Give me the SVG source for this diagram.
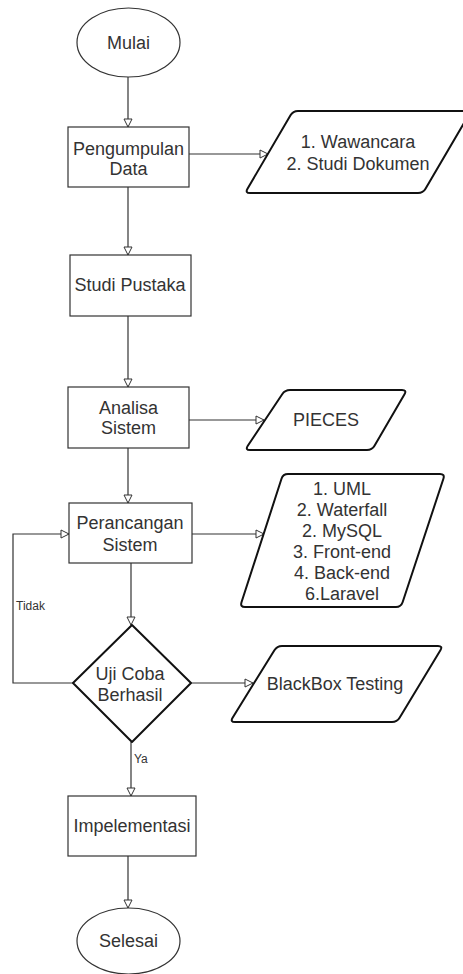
<svg xmlns="http://www.w3.org/2000/svg" width="463" height="974" viewBox="0 0 463 974">
<style>
.box{fill:#fff;stroke:#333;stroke-width:1.2}
.io{fill:#fff;stroke:#111;stroke-width:2;stroke-linejoin:round}
.t{font-family:"Liberation Sans",Arial,sans-serif;font-size:18px;fill:#333;text-anchor:middle}
.s{font-family:"Liberation Sans",Arial,sans-serif;font-size:12px;fill:#333}
.c{fill:none;stroke:#333;stroke-width:1.2;marker-end:url(#arr)}
</style>
<defs>
<marker id="arr" markerUnits="userSpaceOnUse" markerWidth="10" markerHeight="10" refX="8" refY="4" orient="auto" viewBox="-1 -1 10 10">
<path d="M0,0 L8,4 L0,8 Z" fill="#fff" stroke="#333" stroke-width="1"/>
</marker>
</defs>
<rect width="463" height="974" fill="#fff"/>
<g id="connectors">
<path class="c" d="M128,77 V127"/>
<path class="c" d="M189,154 H268"/>
<path class="c" d="M128,187 V255"/>
<path class="c" d="M128,316 V387"/>
<path class="c" d="M189,420 H264"/>
<path class="c" d="M128,448 V503"/>
<path class="c" d="M192,534 H264"/>
<path class="c" d="M131,563 V625"/>
<path class="c" d="M191,683 H253"/>
<path class="c" d="M73,683 H13 V534 H69"/>
<path class="c" d="M131,742 V796"/>
<path class="c" d="M128,856 V908"/>
<text class="s" x="16" y="610">Tidak</text>
<text class="s" x="134" y="763">Ya</text>
</g>
<g id="mulai">
<ellipse class="box" cx="128.5" cy="42.5" rx="51.5" ry="34.5"/>
<text class="t" x="128.5" y="49">Mulai</text>
</g>
<g id="pengumpulan">
<rect class="box" x="68" y="127" width="121" height="60"/>
<text class="t" x="128.5" y="155">Pengumpulan</text>
<text class="t" x="128.5" y="175">Data</text>
</g>
<g id="metode">
<path class="io" d="M298,111 H466 Q471,111 468.5,115.3 L425.5,188.7 Q423,193 418,193 H250 Q245,193 247.5,188.7 L290.5,115.3 Q293,111 298,111 Z"/>
<text class="t" x="358" y="148">1. Wawancara</text>
<text class="t" x="358" y="170">2. Studi Dokumen</text>
</g>
<g id="studi">
<rect class="box" x="70" y="255" width="121" height="61"/>
<text class="t" x="130" y="291">Studi Pustaka</text>
</g>
<g id="analisa">
<rect class="box" x="68" y="387" width="121" height="61"/>
<text class="t" x="128.5" y="414">Analisa</text>
<text class="t" x="128.5" y="434">Sistem</text>
</g>
<g id="pieces">
<path class="io" d="M290,390 H402 Q407,390 404.5,394.3 L374.5,445.7 Q372,450 367,450 H250 Q245,450 247.8,445.8 L282.2,394.2 Q285,390 290,390 Z"/>
<text class="t" x="326" y="426">PIECES</text>
</g>
<g id="perancangan">
<rect class="box" x="69" y="503" width="123" height="60"/>
<text class="t" x="130" y="529">Perancangan</text>
<text class="t" x="130" y="551">Sistem</text>
</g>
<g id="tools">
<path class="io" d="M288,474 H440 Q445,474 443.4,478.8 L402.6,602.2 Q401,607 396,607 H245 Q240,607 241.5,602.2 L281.5,478.8 Q283,474 288,474 Z"/>
<text class="t" x="342" y="495">1. UML</text>
<text class="t" x="342" y="516">2. Waterfall</text>
<text class="t" x="342" y="537">2. MySQL</text>
<text class="t" x="342" y="558">3. Front-end</text>
<text class="t" x="342" y="579">4. Back-end</text>
<text class="t" x="342" y="600">6.Laravel</text>
</g>
<g id="uji">
<polygon class="io" points="132,625 191,683 132,742 73,683"/>
<text class="t" x="130" y="680">Uji Coba</text>
<text class="t" x="130" y="701">Berhasil</text>
</g>
<g id="blackbox">
<path class="io" d="M282,646 H438 Q443,646 440.4,650.3 L399.6,717.7 Q397,722 392,722 H235 Q230,722 232.6,717.7 L274.4,650.3 Q277,646 282,646 Z"/>
<text class="t" x="335" y="690">BlackBox Testing</text>
</g>
<g id="implementasi">
<rect class="box" x="68" y="796" width="128" height="60"/>
<text class="t" x="132" y="832">Impelementasi</text>
</g>
<g id="selesai">
<ellipse class="box" cx="128.5" cy="941" rx="51.5" ry="33"/>
<text class="t" x="128.5" y="947">Selesai</text>
</g>
</svg>
